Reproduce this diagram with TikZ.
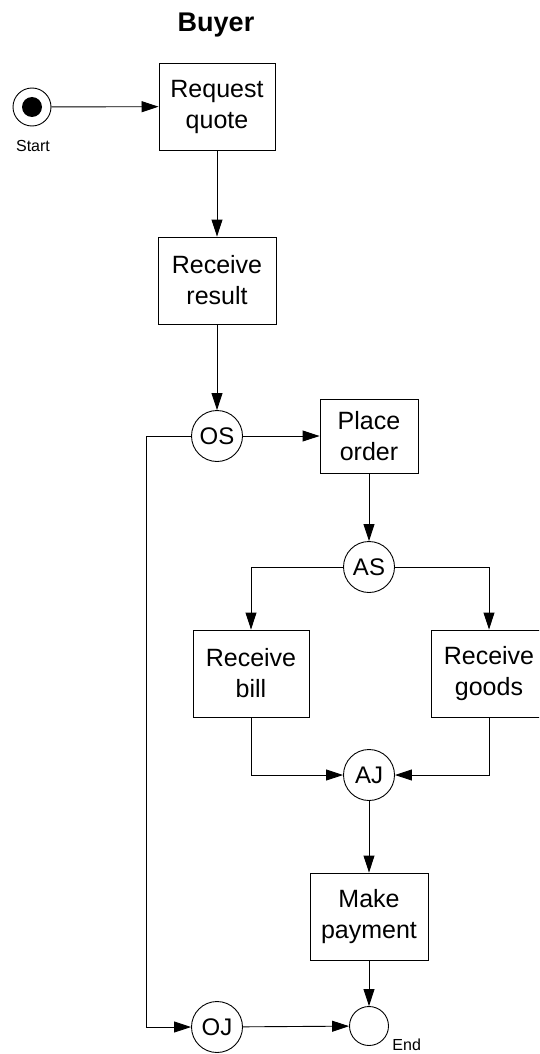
\documentclass[tikz,border=0pt]{standalone}
\usepackage{fontspec}
\setmainfont{Liberation Sans}
\usetikzlibrary{arrows.meta}
\begin{document}
\begin{tikzpicture}[x=1pt,y=-1pt, line width=0.9pt,
  flow/.style={-{Triangle[length=17pt,width=11pt]}},
  activity/.style={draw, rectangle, align=center, inner sep=0pt,
    minimum width=116pt, minimum height=87pt, font=\fontsize{25}{31}\selectfont},
  gate/.style={draw, circle, inner sep=0pt, minimum size=51pt,
    font=\fontsize{24}{28}\selectfont},
  small/.style={font=\fontsize{16}{18}\selectfont, inner sep=0pt}]
\useasboundingbox (0,0) rectangle (539,1054);
\clip (0,0) rectangle (539,1054);

% title
\node[anchor=base, font=\fontsize{27}{32}\selectfont\bfseries] (title) at (216,32) {Buyer};

% start state
\node[draw, circle, inner sep=0pt, minimum size=38pt] (start) at (32,107) {};
\node[fill=black, circle, inner sep=0pt, minimum size=20pt] (startdot) at (start.center) {};
\node[small, anchor=base] (startlbl) at (33,151) {Start};

% activities
\node[activity] (req) at (217,106.5) {Request\\quote};
\node[activity, minimum width=118pt] (res) at (217,280.5) {Receive\\result};
\node[gate] (OS) at (217,436) {OS};
\node[activity, minimum width=98pt, minimum height=74pt] (place) at (369,436) {Place\\order};
\node[gate] (AS) at (369,567) {AS};
\node[activity] (bill) at (251,673.5) {Receive\\bill};
\node[activity] (goods) at (489,673.5) {Receive\\goods};
\node[gate] (AJ) at (369,775) {AJ};
\node[activity, minimum width=118pt] (pay) at (369,916.5) {Make\\payment};
\node[gate] (OJ) at (217,1027) {OJ};
\node[draw, circle, inner sep=0pt, minimum size=39pt] (end) at (369,1026) {};
\node[small, anchor=base west] (endlbl) at (392,1050) {End};

% connectors
\draw[flow] (start) -- (req);
\draw[flow] (req) -- (res);
\draw[flow] (res) -- (OS);
\draw[flow] (OS) -- (place);
\draw[flow] (OS.west) -- ++(-45,0) |- (OJ);
\draw[flow] (place) -- (AS);
\draw[flow] (AS) -| (bill);
\draw[flow] (AS) -| (goods);
\draw[flow] (bill) |- (AJ);
\draw[flow] (goods) |- (AJ);
\draw[flow] (AJ) -- (pay);
\draw[flow] (pay) -- (end);
\draw[flow] (OJ) -- (end);
\end{tikzpicture}
\end{document}
